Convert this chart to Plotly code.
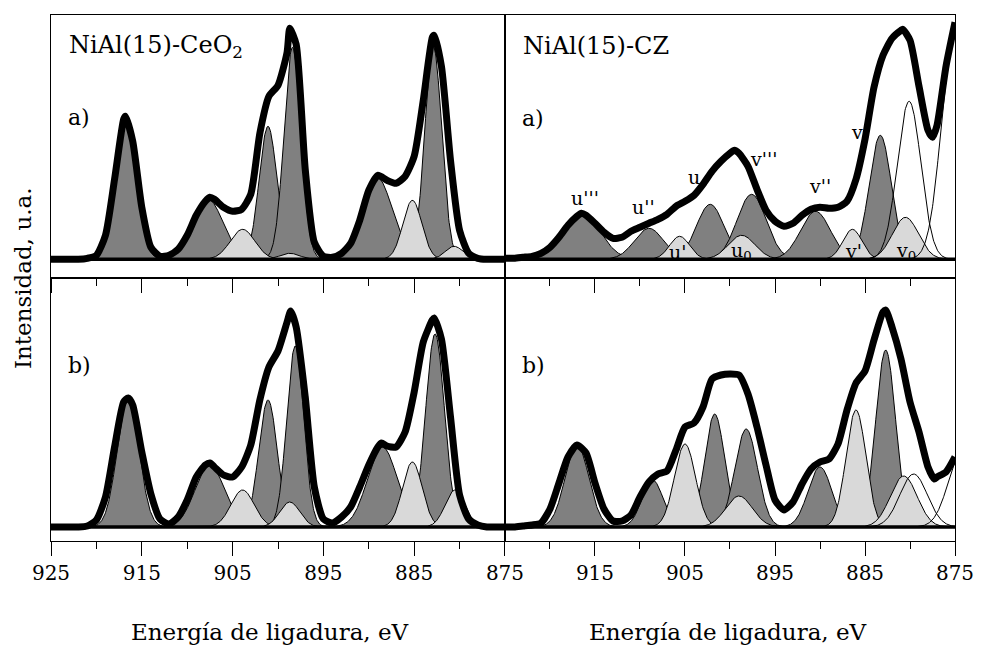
import numpy as np
import plotly.graph_objects as go

# ---------------- data ----------------
# binding-energy axis
E_MAJOR = [925, 915, 905, 895, 885, 875]
E_MINOR = [920, 910, 900, 890, 880]
E_MAJOR_RIGHT = [915, 905, 895, 885, 875]

# fitted components: centre (eV), height (a.u.), FWHM (eV), kind (d = dark, l = light, o = open)
TL_CENTER = [916.8, 907.7, 903.9, 901.1, 898.7, 898.4, 889.1, 885.2, 882.9, 880.6]
TL_HEIGHT = [143, 60, 30, 133, 6, 212, 82, 59, 213, 13]
TL_FWHM = [2.7, 3.9, 3.2, 2.3, 2.5, 2.2, 4.0, 2.45, 2.2, 2.3]
TL_KIND = ["d", "d", "l", "d", "l", "d", "d", "l", "d", "l"]

TR_CENTER = [916.5, 909.0, 905.6, 902.2, 898.7, 897.6, 890.5, 886.4, 883.3, 880.5, 880.1, 875.0]
TR_HEIGHT = [46, 31, 23, 55, 24, 65, 48, 30, 124, 42, 158, 235]
TR_FWHM = [4.8, 3.8, 2.6, 3.6, 3.5, 3.8, 3.9, 2.5, 2.9, 3.4, 3.1, 3.4]
TR_KIND = ["d", "d", "l", "d", "l", "d", "d", "l", "d", "l", "o", "o"]

BL_CENTER = [916.5, 907.5, 903.9, 901.1, 898.7, 898.1, 888.5, 885.2, 882.7, 880.5]
BL_HEIGHT = [130, 62, 37, 127, 25, 181, 80, 65, 193, 37]
BL_FWHM = [2.8, 3.8, 3.0, 2.4, 2.6, 2.2, 3.85, 2.55, 2.45, 2.55]
BL_KIND = ["d", "d", "l", "d", "l", "d", "d", "l", "d", "l"]

BR_CENTER = [917.0, 908.6, 905.0, 901.7, 899.0, 898.2, 890.0, 886.0, 882.7, 880.7, 879.6, 874.2]
BR_HEIGHT = [82, 47, 83, 113, 31, 98, 60, 117, 177, 51, 53, 75]
BR_FWHM = [3.1, 2.75, 2.75, 2.6, 3.5, 2.95, 3.1, 2.6, 2.6, 3.5, 3.6, 3.6]
BR_KIND = ["d", "d", "l", "d", "l", "d", "d", "l", "d", "l", "o", "o"]

# measured envelopes (energy, intensity)
TL_ENV_E = [925, 924, 923, 922, 921, 920, 919, 918, 917, 916.8, 916, 915, 914, 913, 912, 911, 910, 909, 908,
            907.5, 907, 906, 905, 904, 903, 902, 901, 900, 899, 898.7, 898, 897, 896, 895, 894, 893, 892, 891,
            890, 889, 888, 887, 886, 885, 884, 883, 882.8, 882, 881, 880, 879, 878, 877, 876, 875]
TL_ENV_I = [0, 0, 0, 0, 1, 4, 24, 80, 140, 143, 118, 52, 12, 3, 4, 10, 24, 44, 58,
            62, 60, 52, 48, 50, 65, 126, 163, 174, 207, 231, 215, 90, 17, 3, 2, 6, 16, 39,
            69, 84, 79, 76, 83, 103, 159, 222, 224, 193, 99, 29, 6, 1, 0, 0, 0]

TR_ENV_E = [925, 924, 923, 922, 921, 920, 919, 918, 917, 916.5, 916, 915, 914, 913, 912, 911, 910, 909, 908,
            907, 906, 905, 904, 903, 902, 901, 900, 899.5, 899, 898, 897, 896, 895, 894, 893, 892, 891, 890,
            889, 888, 887, 886, 885, 884, 883, 882, 881, 880.8, 880, 879, 878, 877.5, 877, 876, 875]
TR_ENV_I = [1, 1, 2, 3, 6, 12, 22, 34, 43, 46, 44, 36, 27, 21, 22, 28, 32, 36, 40,
            45, 53, 58, 64, 75, 88, 98, 106, 109, 106, 93, 70, 49, 38, 33, 36, 44, 50, 52,
            51, 52, 58, 80, 120, 172, 204, 221, 229, 230, 219, 173, 129, 122, 134, 193, 237]

BL_ENV_E = [925, 924, 923, 922, 921, 920, 919, 918, 917, 916.5, 916, 915, 914, 913, 912, 911, 910, 909, 908,
            907.5, 907, 906, 905, 904, 903, 902, 901, 900, 899, 898.6, 898, 897, 896, 895, 894, 893, 892, 891,
            890, 889, 888.6, 888, 887, 886, 885, 884, 883, 882.8, 882, 881, 880, 879, 878, 877, 876, 875]
BL_ENV_I = [0, 0, 0, 0, 1, 7, 30, 80, 125, 129, 122, 75, 33, 8, 3, 10, 27, 50, 62,
            64, 60, 52, 50, 60, 82, 127, 160, 176, 205, 216, 200, 130, 40, 8, 4, 10, 20, 40,
            62, 80, 84, 81, 80, 95, 135, 185, 207, 209, 188, 110, 32, 8, 2, 0, 0, 0]

BR_ENV_E = [925, 924, 923, 922, 921, 920, 919, 918, 917, 916, 915, 914, 913, 912, 911, 910, 909, 908, 907,
            906, 905, 904, 903, 902, 901, 900, 899, 898, 897, 896, 895, 894, 893, 892, 891, 890, 889, 888,
            887, 886, 885, 884, 883, 882.7, 882, 881, 880, 879, 878, 877.3, 877, 876, 875]
BR_ENV_I = [0, 0, 1, 2, 4, 18, 44, 70, 82, 74, 44, 18, 6, 6, 12, 30, 45, 53, 56,
            77, 100, 104, 120, 148, 152, 153, 152, 133, 100, 62, 27, 17, 25, 43, 58, 65, 68, 83,
            117, 144, 156, 187, 215, 217, 200, 168, 125, 95, 60, 48, 50, 55, 70]

# peak labels of the NiAl(15)-CZ a) panel: text, energy, intensity
CZ_LABELS = ["u'''", "u''", "u'", "u", "u<sub>0</sub>", "v'''", "v''", "v'", "v", "v<sub>0</sub>"]
CZ_LABEL_E = [916.1, 909.6, 905.8, 904.0, 898.7, 896.3, 890.0, 886.3, 885.9, 880.5]
CZ_LABEL_I = [61, 52, 7, 82, 8, 100, 73, 8, 127, 8]

SAMPLE_NAMES = ["NiAl(15)-CeO<sub>2</sub>", "NiAl(15)-CZ"]
Y_TITLE = "Intensidad, u.a."
X_TITLE = "Energía de ligadura, eV"

# ---------------- styling ----------------
FONT = "DejaVu Serif"
DARK = "#808080"
LIGHT = "#d9d9d9"
GRID = np.linspace(925, 875, 1001)  # evaluation grid for the fitted components


def component(c, h, w):
    s = w / 2.3548
    return h * np.exp(-0.5 * ((GRID - c) / s) ** 2)


fig = go.Figure()

panels = [
    ("x", "y", TL_CENTER, TL_HEIGHT, TL_FWHM, TL_KIND, TL_ENV_E, TL_ENV_I),
    ("x2", "y2", TR_CENTER, TR_HEIGHT, TR_FWHM, TR_KIND, TR_ENV_E, TR_ENV_I),
    ("x3", "y3", BL_CENTER, BL_HEIGHT, BL_FWHM, BL_KIND, BL_ENV_E, BL_ENV_I),
    ("x4", "y4", BR_CENTER, BR_HEIGHT, BR_FWHM, BR_KIND, BR_ENV_E, BR_ENV_I),
]

for xa, ya, cen, hei, fw, kind, env_e, env_i in panels:
    for want, fillc in (("d", DARK), ("l", LIGHT)):
        for c, h, w, k in zip(cen, hei, fw, kind):
            if k != want:
                continue
            fig.add_trace(go.Scatter(x=GRID, y=component(c, h, w), mode="lines", fill="tozeroy",
                                     fillcolor=fillc, line=dict(color="black", width=1),
                                     xaxis=xa, yaxis=ya, showlegend=False, hoverinfo="skip"))
    for c, h, w, k in zip(cen, hei, fw, kind):
        if k != "o":
            continue
        yv = component(c, h, w)
        yv = np.where(yv > 0.3, yv, np.nan)
        fig.add_trace(go.Scatter(x=GRID, y=yv, mode="lines", line=dict(color="black", width=1),
                                 xaxis=xa, yaxis=ya, showlegend=False, hoverinfo="skip"))
    # baseline
    fig.add_trace(go.Scatter(x=[E_MAJOR[0], E_MAJOR[-1]], y=[0, 0], mode="lines",
                             line=dict(color="black", width=3.5), xaxis=xa, yaxis=ya,
                             showlegend=False, hoverinfo="skip", cliponaxis=False))
    # envelope
    fig.add_trace(go.Scatter(x=env_e, y=env_i, mode="lines",
                             line=dict(color="black", width=7, shape="spline", smoothing=0.6),
                             xaxis=xa, yaxis=ya, showlegend=False, hoverinfo="skip", cliponaxis=False))

FIG_W, FIG_H = 986, 646
ML, MR, MT, MB = 51, 27, 15, 105
PW = FIG_W - ML - MR
PH = FIG_H - MT - MB
SPLIT = 456 / PW
xcommon = dict(range=[925, 875], showline=True, linecolor="black", linewidth=1.3, mirror=True,
               ticks="outside", ticklen=14, tickwidth=1.3, tickcolor="black",
               showgrid=False, zeroline=False,
               minor=dict(tickvals=E_MINOR, ticks="outside", ticklen=7, tickwidth=1.3, tickcolor="black",
                          showgrid=False),
               tickfont=dict(family=FONT, size=20, color="black"))
ycommon = dict(showline=True, linecolor="black", linewidth=1.3, mirror=True, ticks="",
               showticklabels=False, showgrid=False, zeroline=False)

fig.update_layout(
    width=FIG_W, height=FIG_H,
    margin=dict(l=ML, r=MR, t=MT, b=MB),
    plot_bgcolor="white", paper_bgcolor="white",
    font=dict(family=FONT, color="black"),
    xaxis=dict(xcommon, domain=[0, SPLIT], anchor="y", tickvals=E_MAJOR, showticklabels=False),
    xaxis2=dict(xcommon, domain=[SPLIT, 1], anchor="y2", tickvals=E_MAJOR, showticklabels=False),
    xaxis3=dict(xcommon, domain=[0, SPLIT], anchor="y3", tickvals=E_MAJOR),
    xaxis4=dict(xcommon, domain=[SPLIT, 1], anchor="y4", tickvals=E_MAJOR_RIGHT),
    yaxis=dict(ycommon, domain=[0.5, 1], anchor="x", range=[-18.7, 244.3]),
    yaxis2=dict(ycommon, domain=[0.5, 1], anchor="x2", range=[-18.7, 244.3]),
    yaxis3=dict(ycommon, domain=[0, 0.5], anchor="x3", range=[-14, 249]),
    yaxis4=dict(ycommon, domain=[0, 0.5], anchor="x4", range=[-14, 249]),
)

ann = []
# sample names
ann.append(dict(text=SAMPLE_NAMES[0], xref="x domain", yref="y domain", x=0.035, y=0.882,
                xanchor="left", yanchor="middle", showarrow=False, font=dict(family=FONT, size=24)))
ann.append(dict(text=SAMPLE_NAMES[1], xref="x2 domain", yref="y2 domain", x=0.035, y=0.882,
                xanchor="left", yanchor="middle", showarrow=False, font=dict(family=FONT, size=24)))
# panel letters
for xr, yr, t, yy in (("x", "y", "a)", 0.612), ("x2", "y2", "a)", 0.608),
                      ("x3", "y3", "b)", 0.669), ("x4", "y4", "b)", 0.669)):
    ann.append(dict(text=t, xref=xr + " domain", yref=yr + " domain", x=0.033, y=yy,
                    xanchor="left", yanchor="middle", showarrow=False, font=dict(family=FONT, size=22)))
# peak labels
for t, e, i in zip(CZ_LABELS, CZ_LABEL_E, CZ_LABEL_I):
    ann.append(dict(text=t, xref="x2", yref="y2", x=e, y=i, xanchor="center", yanchor="middle",
                    showarrow=False, font=dict(family=FONT, size=19)))
# axis titles
ty = (FIG_H - MB - 632) / PH
ann.append(dict(text=X_TITLE, xref="paper", yref="paper", x=(271 - ML) / PW, y=ty, xanchor="center",
                yanchor="middle", showarrow=False, font=dict(family=FONT, size=23)))
ann.append(dict(text=X_TITLE, xref="paper", yref="paper", x=(731 - ML) / PW, y=ty, xanchor="center",
                yanchor="middle", showarrow=False, font=dict(family=FONT, size=23)))
ann.append(dict(text=Y_TITLE, xref="paper", yref="paper", x=(23 - ML) / PW, y=(541 - 278) / PH,
                xanchor="center", yanchor="middle", textangle=-90, showarrow=False,
                font=dict(family=FONT, size=23)))
fig.update_layout(annotations=ann)

# remove the default page margin so the 986x646 figure fills the window exactly
fig.write_html("out.html", config={"displayModeBar": False},
               post_script="document.body.style.margin='0';document.body.style.overflow='hidden';")
